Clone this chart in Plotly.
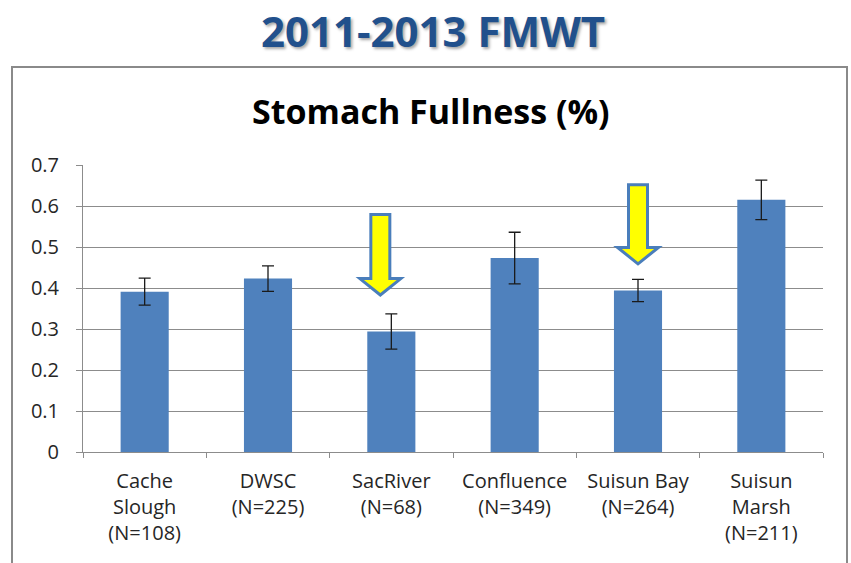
import plotly.graph_objects as go

# ---- data ----
categories = ["Cache<br>Slough<br>(N=108)", "DWSC<br>(N=225)", "SacRiver<br>(N=68)",
              "Confluence<br>(N=349)", "Suisun Bay<br>(N=264)", "Suisun<br>Marsh<br>(N=211)"]
fullness = [0.391, 0.423, 0.294, 0.473, 0.394, 0.615]
error_se = [0.033, 0.031, 0.043, 0.063, 0.027, 0.048]
y_ticks = [0, 0.1, 0.2, 0.3, 0.4, 0.5, 0.6, 0.7]
y_tick_text = ["0", "0.1", "0.2", "0.3", "0.4", "0.5", "0.6", "0.7"]
main_title = "2011-2013 FMWT"
chart_title = "Stomach Fullness (%)"

# highlighted categories (index, x offset px, tip, head base, top in data units)
arrow_idx = [2, 4]
arrow_dx_px = [-11, 0]
arrow_tip = [0.383, 0.459]
arrow_base = [0.423, 0.499]
arrow_top = [0.579, 0.652]

FONT = "Open Sans"
BAR = "#4F81BD"
GRID = "#8C8C8C"
W, H = 851, 563
ML, MR, MT, MB = 83, 28, 165, 111
PW = W - ML - MR
PH = H - MT - MB

fig = go.Figure()
fig.add_trace(go.Bar(
    x=categories, y=fullness,
    marker=dict(color=BAR, line=dict(width=0)),
    error_y=dict(type="data", array=error_se, visible=True,
                 color="#1a1a1a", thickness=1.3, width=6),
    width=0.39,
    hoverinfo="skip",
))

shapes = []
# outer chart border
shapes.append(dict(type="rect", xref="paper", yref="paper",
                   x0=(12 - ML) / PW, x1=(847 - ML) / PW,
                   y0=-1.0, y1=(H - MB - 67) / PH,
                   line=dict(color="#8A8A8A", width=2), fillcolor="rgba(0,0,0,0)",
                   layer="below"))

n = len(categories)
for i, dx, tip, base, top in zip(arrow_idx, arrow_dx_px, arrow_tip, arrow_base, arrow_top):
    cx = (i + 0.5) / n + dx / PW
    sw = 9.5 / PW
    hw = 20.5 / PW
    path = (f"M {cx - sw} {top} L {cx + sw} {top} L {cx + sw} {base} "
            f"L {cx + hw} {base} L {cx} {tip} L {cx - hw} {base} "
            f"L {cx - sw} {base} Z")
    shapes.append(dict(type="path", xref="paper", yref="y", path=path,
                       fillcolor="#FFFF00", line=dict(color="#4A7EBB", width=3),
                       layer="above"))

annotations = [
    dict(text=f"<b>{main_title}</b>", xref="paper", yref="paper",
         x=(433 - ML) / PW, y=(H - MB - 30) / PH, xanchor="center", yanchor="middle",
         showarrow=False,
         font=dict(family=FONT, size=42, color="#21508C",
                   shadow="2px 2px 3px rgba(0,0,0,0.35)")),
    dict(text=f"<b>{chart_title}</b>", xref="paper", yref="paper",
         x=(431 - ML) / PW, y=(H - MB - 111) / PH, xanchor="center", yanchor="middle",
         showarrow=False,
         font=dict(family=FONT, size=34, color="#000000")),
]

fig.update_layout(
    width=W, height=H,
    margin=dict(l=ML, r=MR, t=MT, b=MB),
    paper_bgcolor="white", plot_bgcolor="white",
    showlegend=False,
    bargap=0.61,
    font=dict(family=FONT, size=20, color="#262626"),
    shapes=shapes,
    annotations=annotations,
    xaxis=dict(
        showline=True, linecolor=GRID, linewidth=1,
        ticks="outside", tickson="boundaries", ticklen=5, tickcolor=GRID,
        showgrid=False, ticklabelstandoff=11,
        tickfont=dict(family=FONT, size=20, color="#262626"),
    ),
    yaxis=dict(
        range=[0, 0.7], tickvals=y_ticks, ticktext=y_tick_text,
        showline=True, linecolor=GRID, linewidth=1,
        ticks="outside", ticklen=6, tickcolor=GRID,
        showgrid=True, gridcolor=GRID, gridwidth=1, zeroline=False,
        ticklabelstandoff=13,
        tickfont=dict(family=FONT, size=20, color="#262626"),
    ),
)

fig.write_html("out.html", config={"displayModeBar": False},
               post_script="document.body.style.margin='0';document.body.style.overflow='hidden';")
